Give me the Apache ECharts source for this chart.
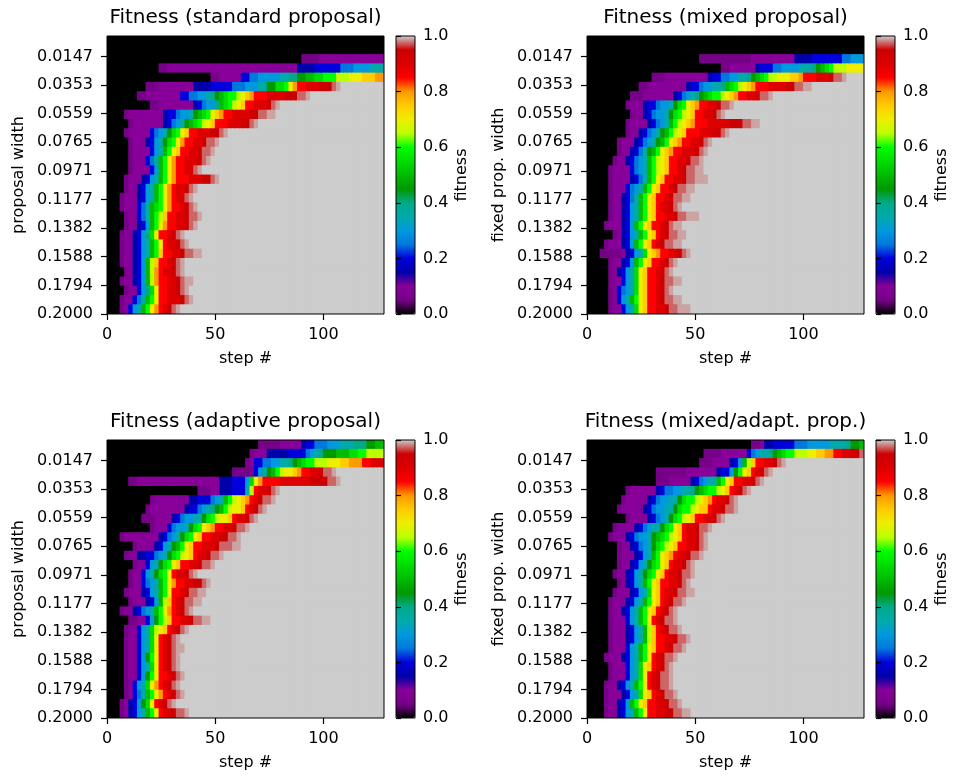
<!DOCTYPE html>
<html>
<head>
<meta charset="utf-8">
<title>Fitness maps</title>
<script src="https://cdn.jsdelivr.net/npm/echarts@6/dist/echarts.min.js"></script>
<style>
  html, body { margin: 0; padding: 0; background: #fff; }
  #chart { width: 957px; height: 777px; }
</style>
</head>
<body>
<div id="chart"></div>
<script>
(function () {
    // fitness level keys used in the row codes (letter + optional repeat count)
    const levelKeys = 'abcdefghijklmnopqrstuvw'
    const levelValues = [0, 0.05, 0.1, 0.15, 0.2, 0.25, 0.3, 0.35, 0.4, 0.45, 0.5, 0.55, 0.6,
        0.65, 0.7, 0.75, 0.8, 0.85, 0.9, 0.95, 0.975, 0.99, 1]

    const colCount = 64          // each column = 2 steps
    const stepTicks = [0, 50, 100]
    const widthTicks = [0.0147, 0.0353, 0.0559, 0.0765, 0.0971, 0.1177, 0.1382, 0.1588, 0.1794, 0.2000]
    const fitnessTicks = [0, 0.2, 0.4, 0.6, 0.8, 1.0]

    const titles = ['Fitness (standard proposal)', 'Fitness (mixed proposal)',
        'Fitness (adaptive proposal)', 'Fitness (mixed/adapt. prop.)']
    const yNames = ['proposal width', 'fixed prop. width', 'proposal width', 'fixed prop. width']

    // one code per proposal width row (top = smallest width); cells after the code are 1.0
    const standardRows = [
        'a64', 'a64', 'a45b4c15', 'a12b2c30d4e6f3g4h3',
        'a24b2c5e2f2g5h2i2j2k2l2m3n3o3p3q2',
        'a9b3c8d4e5f3g3h2j2l2moqr2s3t3uv',
        'a7b2c8e2f2g2hijklm2nopqr3s4t3u2v',
        'a10b2c8defg2iklmnopr2s3tuv',
        'a4bc8de2fg2hjklmopqr2s4t2u2v2',
        'a5bc7defghjklmnopr3s3t2uv',
        'a4bc5efghjlmopr2s3t2uv',
        'a5bc3deghjlmoqr2s2tu2v',
        'a5bc4eghkmopr2s2tu2v',
        'a5bc3efhkmoqr2s3tuv',
        'a5bc4egkmoqr2s2uv',
        'a4bc3deghkmoqr3s3t2uv',
        'a4bc2deghkmoqrs2tuv',
        'a3bc3deghkmoqrs2uv',
        'a3bc3efhklmoqr2stuv',
        'a4bc2efhkmnpr2s2tu2v',
        'a4bc2degkmoqr2s2tuv',
        'a3bc2degilor2stuv',
        'a3bc2deghkmors2tuv',
        'a3bc2deghkmpr2s2tu2v2',
        'a3bc2degknpr2stuv',
        'a4bcdegknqrs2tuv',
        'a3bc2degknqr2s2tuv2',
        'a4bc2egilor2s2tuv',
        'a3bc2efhkmor2s3tuv',
        'a3bceghkmoqrstuv'
    ]
    const mixedRows = [
        'a64', 'a64', 'a26b12c10d4e7f2g3',
        'a31b2c6de3f2g4h3ijklmn3o4',
        'a15b3c10de2f2g2h2ijklmn2o3p2qr3s3tu2v',
        'a12b2c9de2fg2h2iklmnopqr3s4t2u2v2',
        'a10b3c7defghijklm2nopqr2s2tu2v',
        'a9bc3de2fg2hjlmopqr2s2tu2v',
        'a10bc2defg2hjlmnopr2s2tuv',
        'a9bc4defghkmnopqr3s5t3u2v2',
        'a9bc2defghjkmnopr3s3t2uv',
        'a7bc3defghjkmopqr2s2tuv',
        'a7bc2defhjkmopqr2s3tuv',
        'a6bc2defghkmnopr2s2tu2v',
        'a5bc4efghkmnopr2stu2v2',
        'a5bc4defhkmopr2s2tu2v3',
        'a5bc3efghkmopr2stu2v2',
        'a5bc2defhkmopr2stu2v2',
        'a5bc2deghkmoprs2tuv',
        'a5bc2deghkmopr2s2tu2v3',
        'a4bc3degkmopr2stuv2',
        'a6bcdeghkmoprstu2v2',
        'a4bc3degkmoprstu2v2',
        'a3b5cdeghlopqr2s2tuv',
        'a5bc2degkmopr2stuv',
        'a5bcdeghlopr2stuv',
        'a5bc2eghlopr2stu2v2',
        'a5bcefghlopr2stuv',
        'a5bceghkmopr2stu2v2',
        'a5bc2eghlopr2s2tu2v3'
    ]
    const adaptiveRows = [
        'a35b5c5de2f3g3h3i3j2k2',
        'a33bc3d5e4fghij3k3l2m2n4',
        'a32bce2f2g2h2ijklm2n3o3p2q3r2s3',
        'a29b5eghjkmno2pqr2s2tu2v',
        'a5b2c19d3e3gloqr4s7t4u2v',
        'a21b3c2d3e3hnrs2tuv',
        'a10bc8d2e3fghkmnopqrstu2v',
        'a9bc8de2fghijkmno2prstuv',
        'a8b3c4defg2h2jlmno2prs2tuv',
        'a10bc3efg2hjlmopqr2s2tu2v',
        'a3bc8defghjlmopr2s2t2u2v',
        'a6bc4deghjkmopr2s3tu3v2',
        'a4bc2d2e2fghjlmnoprs2tu2v',
        'a6bc2eghjlmopr2s2tu2v',
        'a5bc2eghjlmors2tuv',
        'a5bc2efghkmoqr2s2t2uv',
        'a4bc3deghkmor2stu2v2',
        'a5bc3degknprstu2v2',
        'a3bc2defghkmoqrstuv',
        'a5b2c2egjmnpr2s2tu2v2',
        'a4bc2eghlnoprstuv',
        'a4bc2eghlorstuv',
        'a4bc2eghlorstuv2',
        'a4bc2egjmorstuv',
        'a4bc2eghlorstuv',
        'a4bc2egjmor2stuv',
        'a4bceghloqrstuv',
        'a4bcefhkmoqrstuv',
        'a3bcdegjlorstuv',
        'a3bcdeghkmors2tu2v'
    ]
    const mixedAdaptRows = [
        'a38b2cd2e5f3g5h4ij2k',
        'a27b4c6efgh2ijklm2n3o2p2q2r2s2t2u',
        'a26b3c4degknpr2s2tuv',
        'a16b7c7de2gjmoprstuv',
        'a16b3c5defgh2kmopr2s2tuv',
        'a9bc6def2g2h2ijklm2noprstuv',
        'a8bc5defg2h2jlm2nopqrs2tuv',
        'a7bc5defg2h2jlm2nop2rs2tu2v',
        'a9bc4defghjlmnopr2s2tuv',
        'a6bc4defgh2jlmoprs2tu2v',
        'a5bc3defg2hjklmnoprs2tuv',
        'a7bc2defghjlmnopr2s2tuv',
        'a7bc3deghkmopqrs2tu2v',
        'a7bc2deghjlmoprs2tuv',
        'a6bc2deghjlmoprs2tu2v',
        'a7bcdeghkmopr2s2tuv',
        'a6bc3deghloprs2tu2v2',
        'a5bc3deghkmoprstu2v',
        'a5bc2deghkmoprstuv',
        'a5bc3eghkmorstu2v',
        'a5bc3deghknprstu2v',
        'a5bc3deghknpr2s2tu2v',
        'a5bc3eghkmopr2stu2v',
        'a4bc3deghkmorstu2v',
        'a5bc3eghloprstuv',
        'a5bc3eghlorstu2v',
        'a4bc2deghkmorstu2v',
        'a4bc3deghloprstu2v',
        'a4bc2degkmopr2s2tu2v',
        'a4bc2deghkmor2s2t2u2v2'
    ]
    const panelRows = [standardRows, mixedRows, adaptiveRows, mixedAdaptRows]

    // nipy_spectral
    const nipy = ['#000000', '#770088', '#880099', '#0000aa', '#0000dd', '#0077dd', '#0099dd',
        '#00aaaa', '#00aa88', '#009900', '#00bb00', '#00dd00', '#00ff00', '#bbff00', '#eeee00',
        '#ffcc00', '#ff9900', '#ff0000', '#dd0000', '#cc0000', '#cccccc']

    function decodeRow(code) {
        const cells = []
        code.replace(/([a-w])(\d*)/g, function (m, key, n) {
            const count = n ? parseInt(n, 10) : 1
            for (let k = 0; k < count; k++) cells.push(levelValues[levelKeys.indexOf(key)])
            return m
        })
        while (cells.length < colCount) cells.push(1)
        return cells.slice(0, colCount)
    }

    // cells drawn a hair larger than the band so no seams show between them
    function renderCell(params, api) {
        const p = api.coord([api.value(0), api.value(1)])
        const s = api.size([1, 1])
        return {
            type: 'rect',
            shape: { x: p[0] - s[0] / 2 - 0.4, y: p[1] - s[1] / 2 - 0.4, width: s[0] + 0.8, height: s[1] + 0.8 },
            style: { fill: api.visual('color') }
        }
    }

    const FONT = 'DejaVu Sans'
    const plotW = 277, plotH = 278
    const barGap = 12, barW = 19
    const lefts = [107, 587, 107, 587]
    const tops = [36, 36, 440, 440]

    const colCats = []
    for (let c = 0; c < colCount; c++) colCats.push(c)

    const tickStyle = { color: '#000', width: 1.2 }
    const grid = [], xAxis = [], yAxis = [], series = [], visualMap = [], graphic = []

    panelRows.forEach(function (rows, i) {
        const px = lefts[i], py = tops[i]
        const cbLeft = px + plotW + barGap
        const rowCats = rows.map(function (r, k) { return k })
        const data = []
        rows.forEach(function (code, r) {
            decodeRow(code).forEach(function (v, c) { data.push([c, r, v]) })
        })

        grid.push({ left: px, top: py, width: plotW, height: plotH, show: true,
            borderColor: '#000', borderWidth: 1, backgroundColor: 'transparent', z: 10 })
        grid.push({ left: cbLeft, top: py, width: barW, height: plotH, show: true,
            borderColor: '#000', borderWidth: 1, backgroundColor: 'transparent', z: 10 })

        xAxis.push(
            { type: 'category', gridIndex: 2 * i, data: colCats, show: false, position: 'top' },
            { type: 'value', gridIndex: 2 * i, min: 0, max: 128, position: 'bottom', z: 10,
                axisLine: { show: false }, splitLine: { show: false },
                axisTick: { length: 6, lineStyle: tickStyle, customValues: stepTicks },
                axisLabel: { color: '#000', fontSize: 16, fontFamily: FONT, margin: 13, customValues: stepTicks } },
            { type: 'value', gridIndex: 2 * i + 1, min: 0, max: 1, show: false }
        )
        yAxis.push(
            { type: 'category', gridIndex: 2 * i, data: rowCats, inverse: true, show: false, position: 'right' },
            { type: 'value', gridIndex: 2 * i, min: 0, max: 0.2, inverse: true, position: 'left', z: 10,
                axisLine: { show: false }, splitLine: { show: false },
                axisTick: { length: 6, lineStyle: tickStyle, customValues: widthTicks },
                axisLabel: { color: '#000', fontSize: 16, fontFamily: FONT, margin: 14, customValues: widthTicks,
                    formatter: function (v) { return v.toFixed(4) } } },
            { type: 'value', gridIndex: 2 * i + 1, min: 0, max: 1, position: 'right', z: 10,
                axisLine: { show: false }, splitLine: { show: false },
                axisTick: { length: 5, lineStyle: tickStyle, customValues: fitnessTicks },
                axisLabel: { color: '#000', fontSize: 16, fontFamily: FONT, margin: 8, customValues: fitnessTicks,
                    formatter: function (v) { return v.toFixed(1) } } }
        )

        series.push({
            type: 'custom', xAxisIndex: 3 * i, yAxisIndex: 3 * i, data: data,
            encode: { x: 0, y: 1 }, clip: true, silent: true, renderItem: renderCell
        })

        visualMap.push({
            type: 'continuous', seriesIndex: i, dimension: 2, min: 0, max: 1, calculable: false,
            orient: 'vertical', left: cbLeft, top: py, itemWidth: barW, itemHeight: plotH,
            padding: 0, text: null, hoverLink: false, inRange: { color: nipy }
        })

        graphic.push(
            { type: 'text', x: px + plotW / 2, y: py - 18,
                style: { text: titles[i], fontSize: 20, fontFamily: FONT, fill: '#000', align: 'center', verticalAlign: 'middle' } },
            { type: 'text', x: px - 88, y: py + plotH / 2, rotation: Math.PI / 2,
                style: { text: yNames[i], fontSize: 16, fontFamily: FONT, fill: '#000', align: 'center', verticalAlign: 'middle' } },
            { type: 'text', x: px + plotW / 2, y: py + plotH + 45,
                style: { text: 'step #', fontSize: 16, fontFamily: FONT, fill: '#000', align: 'center', verticalAlign: 'middle' } },
            { type: 'text', x: cbLeft + 66, y: py + plotH / 2, rotation: Math.PI / 2,
                style: { text: 'fitness', fontSize: 16, fontFamily: FONT, fill: '#000', align: 'center', verticalAlign: 'middle' } }
        )
    })

    const chart = echarts.init(document.getElementById('chart'))
    chart.setOption({
        animation: false,
        backgroundColor: '#fff',
        grid: grid,
        xAxis: xAxis,
        yAxis: yAxis,
        visualMap: visualMap,
        series: series,
        graphic: graphic
    })
})()
</script>
</body>
</html>
